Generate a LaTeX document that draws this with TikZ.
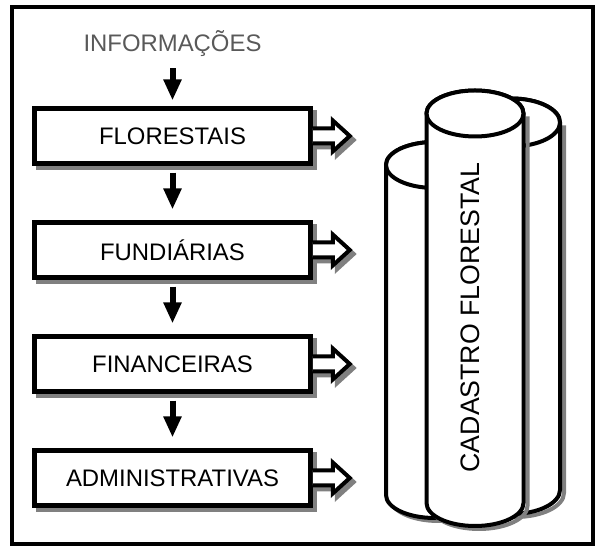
\documentclass[tikz,border=0pt]{standalone}
\usepackage{fontspec}
\setmainfont{Liberation Sans}
\usetikzlibrary{positioning,arrows.meta}

\begin{document}
\begin{tikzpicture}[scale=1,
    box/.style={draw, fill=white, line width=0.225cm, minimum width=13.8cm, minimum height=2.75cm,
        font=\fontsize{34}{40}\selectfont,
        preaction={draw=black!50, line width=0.225cm, transform canvas={shift={(0.2,-0.2)}}}},
    down/.style={line width=0.3cm, -{Triangle[width=0.85cm,length=1.05cm]}},
    hollow/.style={draw, fill=white, line width=0.2cm,
        preaction={draw=black!50, fill=black!50, line width=0.2cm, transform canvas={shift={(0.2,-0.2)}}}},
    column/.style={draw, fill=white, line width=0.2cm},
    shade/.style={draw=black!50, line width=0.2cm},
]
\useasboundingbox (0,0) rectangle (29.95,27.8);
\draw[line width=0.2cm] (0.585,0.6) rectangle (29.625,27.44);

\node[anchor=base, inner sep=0, text=black!65, font=\fontsize{34}{40}\selectfont] (info) at (8.625,25.225) {INFORMAÇÕES};
\node[box] (flor) at (8.625,21) {FLORESTAIS};
\node[box, below=2.725 of flor] (fund) {FUNDIÁRIAS};
\node[box, below=2.725 of fund] (fin) {FINANCEIRAS};
\node[box, below=2.725 of fin] (adm) {ADMINISTRATIVAS};

\draw[down, shorten <=0.575cm, shorten >=0.29cm] (info) -- (flor);
\draw[down, shorten <=0.34cm, shorten >=0.54cm] (flor) -- (fund);
\draw[down, shorten <=0.34cm, shorten >=0.54cm] (fund) -- (fin);
\draw[down, shorten <=0.34cm, shorten >=0.54cm] (fin) -- (adm);

\foreach \b in {flor,fund,fin,adm}
  \path[hollow] ([yshift=0.375cm]\b.east) -- ++(1,0) -- ++(0,0.4) -- ++(0.85,-0.775) -- ++(-0.85,-0.775) -- ++(0,0.4) -- ++(-1,0);

% cylinders, back to front
\foreach \cx/\top/\bot/\ry in {25.575/21.675/3.3/1.2, 21.725/19.55/3.05/1.15, 23.75/22.125/2.65/1.15}{
  \draw[shade, xshift=0.2cm, yshift=-0.15cm] ({\cx+2.425},\top) -- ({\cx+2.425},\bot) arc[start angle=0, end angle=-180, x radius=2.425, y radius=\ry];
  \draw[column] ({\cx-2.425},\top) -- ({\cx-2.425},\bot) arc[start angle=180, end angle=360, x radius=2.425, y radius=\ry] -- ({\cx+2.425},\top) arc[start angle=0, end angle=180, x radius=2.425, y radius=\ry] -- cycle;
  \draw[column] (\cx,\top) ellipse[x radius=2.425, y radius=\ry];
}
\node[rotate=90, font=\fontsize{38}{44}\selectfont] (cad) at (23.5,11.925) {CADASTRO FLORESTAL};

\end{tikzpicture}
\end{document}
